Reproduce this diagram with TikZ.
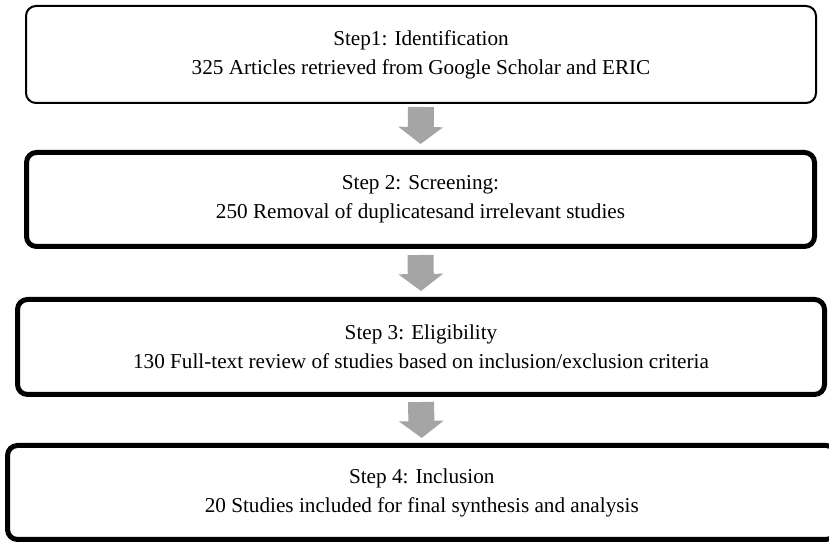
\documentclass[tikz,border=0pt]{standalone}
\usepackage{fontspec}
\setmainfont{Liberation Serif}
\usetikzlibrary{arrows.meta}
\definecolor{arrowgray}{HTML}{A5A5A5}
\tikzset{
  stepbox/.style={draw=black, rounded corners=10pt, inner sep=0pt, outer sep=0pt,
    align=center, fill=white, font=\fontsize{21.2}{29}\selectfont},
  thinbox/.style={stepbox, line width=2pt},
  thickbox/.style={stepbox, line width=5pt},
  blockarrow/.style={draw=arrowgray, line width=26pt,
    -{Triangle[width=44pt, length=17pt]}, arrowgray}
}
\begin{document}
\begin{tikzpicture}[x=1pt, y=1pt]
\useasboundingbox (0,0) rectangle (829,545);
\node[thinbox, minimum width=790pt, minimum height=97pt] (b1) at (421,490.5)
  {Step1: Identification\\325 Articles retrieved from Google Scholar and ERIC};
\node[thickbox, minimum width=788pt, minimum height=94pt] (b2) at (420.5,345.5)
  {Step 2: Screening:\\250 Removal of duplicatesand irrelevant studies};
\node[thickbox, minimum width=807pt, minimum height=95pt] (b3) at (421,198)
  {Step 3: Eligibility\\130 Full-text review of studies based on inclusion/exclusion criteria};
\node[thickbox, minimum width=828.5pt, minimum height=94pt] (b4) at (421.75,52.5)
  {Step 4: Inclusion\\20 Studies included for final synthesis and analysis};
\draw[blockarrow] ([yshift=-4pt]b1.south) -- ([yshift=8.5pt]b2.north);
\draw[blockarrow] ([yshift=-8.5pt]b2.south) -- ([yshift=8.5pt]b3.north);
\draw[blockarrow] ([yshift=-7.5pt]b3.south) -- ([yshift=7.5pt]b4.north);
\end{tikzpicture}
\end{document}
